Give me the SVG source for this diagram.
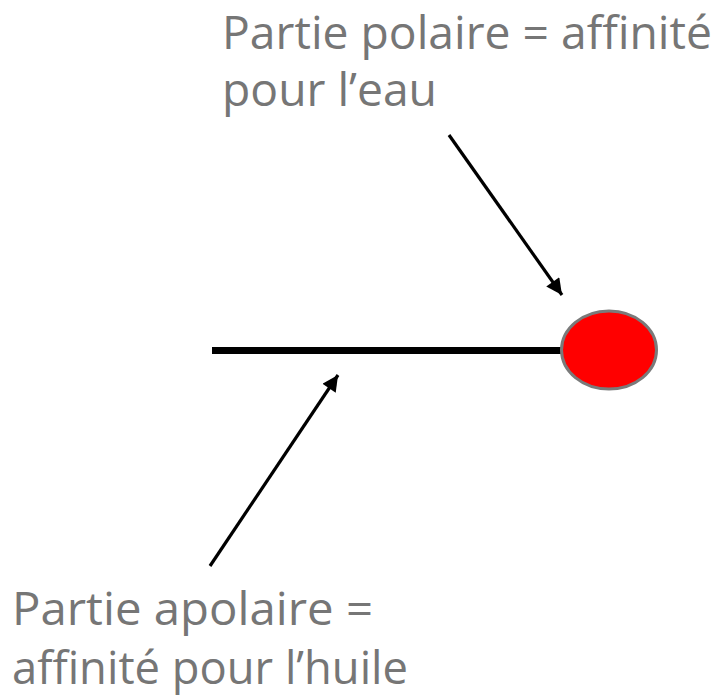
<svg xmlns="http://www.w3.org/2000/svg" width="724" height="698" viewBox="0 0 724 698">
<style>
.lbl{font-family:"Open Sans","Noto Sans","Liberation Sans",sans-serif;font-size:45px;fill:#767676}
.arr{stroke:#000;stroke-width:3.2;fill:none}
</style>
<defs>
<marker id="ah" viewBox="0 0 10 10" refX="10" refY="5" markerWidth="6" markerHeight="5" markerUnits="strokeWidth" orient="auto">
<path d="M0,0 L10,5 L0,10 z" fill="#000"/>
</marker>
</defs>
<rect width="724" height="698" fill="#fff"/>
<g id="tail">
<line x1="212" y1="350.5" x2="562" y2="350.5" stroke="#000" stroke-width="7"/>
</g>
<g id="head">
<ellipse cx="609" cy="350" rx="47.5" ry="39" fill="#ff0000" stroke="#7a7a7a" stroke-width="3"/>
</g>
<g id="label-polar">
<text class="lbl" x="222" y="48.5" textLength="490" lengthAdjust="spacingAndGlyphs">Partie polaire = affinité</text>
<text class="lbl" x="222" y="106" textLength="215" lengthAdjust="spacingAndGlyphs">pour l’eau</text>
</g>
<g id="label-apolar">
<text class="lbl" x="12" y="625" textLength="361" lengthAdjust="spacingAndGlyphs">Partie apolaire =</text>
<text class="lbl" x="12" y="684" textLength="396" lengthAdjust="spacingAndGlyphs">affinité pour l’huile</text>
</g>
<g id="connectors">
<line class="arr" x1="449" y1="135" x2="562" y2="295" marker-end="url(#ah)"/>
<line class="arr" x1="210" y1="566" x2="338" y2="375" marker-end="url(#ah)"/>
</g>
</svg>
